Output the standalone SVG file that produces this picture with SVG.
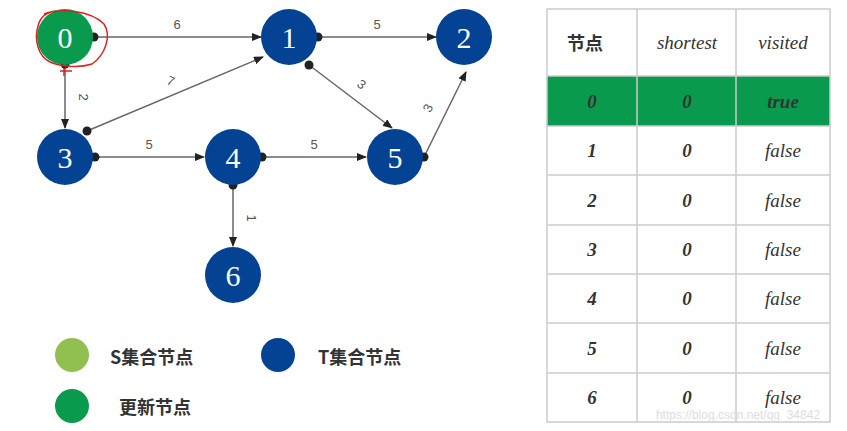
<svg xmlns="http://www.w3.org/2000/svg" width="847" height="431" viewBox="0 0 847 431">
<defs>
<marker id="arr" markerWidth="10" markerHeight="8" refX="9" refY="4" orient="auto" markerUnits="userSpaceOnUse"><path d="M0,0L10,4L0,8z" fill="#222"/></marker>
<marker id="dot" markerWidth="10" markerHeight="10" refX="5" refY="5" markerUnits="userSpaceOnUse"><circle cx="5" cy="5" r="4.5" fill="#222"/></marker>
</defs>
<style>
.n{fill:#044293}.g{fill:#0a9a4e}
.nt{font-family:"Liberation Serif",serif;font-size:30px;fill:#fff;text-anchor:middle;dominant-baseline:central}
.e{stroke:#666;stroke-width:1.5;fill:none;marker-start:url(#dot);marker-end:url(#arr)}
.w{font-family:"Liberation Sans",sans-serif;font-size:13px;fill:#555;text-anchor:middle}
.t{font-family:"Liberation Serif",serif;font-style:italic;font-weight:bold;font-size:19px;fill:#333;text-anchor:middle;dominant-baseline:central}
.h{font-family:"Liberation Serif",serif;font-style:italic;font-size:19px;fill:#333;text-anchor:middle;dominant-baseline:central}
.c{font-family:"Noto Sans CJK SC",sans-serif;font-weight:bold;font-size:18px;fill:#333;dominant-baseline:central}
.gl{stroke:#ccc;stroke-width:1.5;fill:none}
</style>
<rect width="847" height="431" fill="#fff"/>
<g id="connectors">
<line class="e" x1="94" y1="37" x2="261" y2="37"/>
<line class="e" x1="65" y1="64" x2="65" y2="128"/>
<line class="e" x1="87" y1="131" x2="263" y2="57"/>
<line class="e" x1="318" y1="37" x2="436" y2="37"/>
<line class="e" x1="309" y1="65" x2="392" y2="128"/>
<line class="e" x1="424" y1="157" x2="466" y2="72"/>
<line class="e" x1="95" y1="157" x2="204" y2="157"/>
<line class="e" x1="262" y1="157" x2="366" y2="157"/>
<line class="e" x1="233" y1="185" x2="233" y2="246"/>
<text class="w" x="177" y="29">6</text>
<text class="w" x="377" y="29">5</text>
<text class="w" x="79" y="97" transform="rotate(90 79 97)">2</text>
<text class="w" x="169" y="85" transform="rotate(22 169 85)">7</text>
<text class="w" x="359" y="88" transform="rotate(37 359 88)">3</text>
<text class="w" x="432" y="110" transform="rotate(-63 432 110)">3</text>
<text class="w" x="149" y="149">5</text>
<text class="w" x="314" y="149">5</text>
<text class="w" x="247" y="218" transform="rotate(90 247 218)">1</text>
</g>
<g id="n0"><circle class="g" cx="65" cy="37" r="28"/><text class="nt" x="65" y="37">0</text>
<path d="M44,14C60,8 90,10 104,24C112,36 105,55 92,64C80,68 62,67 50,62C38,56 34,40 38,26C40,18 46,12 56,11" stroke="#e02020" stroke-width="1.5" fill="none"/>
<path d="M64,68L64,76M60,71L72,71" stroke="#e02020" stroke-width="1.5"/></g>
<g id="n1"><circle class="n" cx="289" cy="37" r="28"/><text class="nt" x="289" y="37">1</text></g>
<g id="n2"><circle class="n" cx="464" cy="37" r="28"/><text class="nt" x="464" y="37">2</text></g>
<g id="n3"><circle class="n" cx="65" cy="157" r="28"/><text class="nt" x="65" y="157">3</text></g>
<g id="n4"><circle class="n" cx="233" cy="157" r="28"/><text class="nt" x="233" y="157">4</text></g>
<g id="n5"><circle class="n" cx="395" cy="157" r="28"/><text class="nt" x="395" y="157">5</text></g>
<g id="n6"><circle class="n" cx="233" cy="275" r="28"/><text class="nt" x="233" y="275">6</text></g>
<g id="legend">
<circle cx="72" cy="355" r="17" fill="#92c050"/><text class="c" x="110" y="356">S集合节点</text>
<circle cx="278" cy="355" r="17" fill="#044293"/><text class="c" x="318" y="356">T集合节点</text>
<circle cx="72" cy="406" r="17" fill="#0a9a4e"/><text class="c" x="119" y="406">更新节点</text>
</g>
<g id="table">
<rect x="547" y="76" width="283" height="50" fill="#0a9a4e"/>
<rect class="gl" x="547" y="9" width="283" height="413"/>
<path class="gl" d="M637,9V422M736,9V422M547,76H830M547,126H830M547,175H830M547,225H830M547,274H830M547,323H830M547,373H830"/>
<text class="c" x="567" y="42">节点</text>
<text class="h" x="687" y="42">shortest</text>
<text class="h" x="783" y="42">visited</text>
<text class="t" x="592" y="101">0</text><text class="t" x="687" y="101">0</text><text class="t" x="783" y="101">true</text>
<text class="t" x="592" y="150">1</text><text class="t" x="687" y="150">0</text><text class="h" x="783" y="150">false</text>
<text class="t" x="592" y="200">2</text><text class="t" x="687" y="200">0</text><text class="h" x="783" y="200">false</text>
<text class="t" x="592" y="249">3</text><text class="t" x="687" y="249">0</text><text class="h" x="783" y="249">false</text>
<text class="t" x="592" y="298">4</text><text class="t" x="687" y="298">0</text><text class="h" x="783" y="298">false</text>
<text class="t" x="592" y="348">5</text><text class="t" x="687" y="348">0</text><text class="h" x="783" y="348">false</text>
<text class="t" x="592" y="397">6</text><text class="t" x="687" y="397">0</text><text class="h" x="783" y="397">false</text>
<text x="738" y="419" font-family="Liberation Sans,sans-serif" font-size="12" fill="#ddd" text-anchor="middle">https://blog.csdn.net/qq_34842</text>
</g>
</svg>
